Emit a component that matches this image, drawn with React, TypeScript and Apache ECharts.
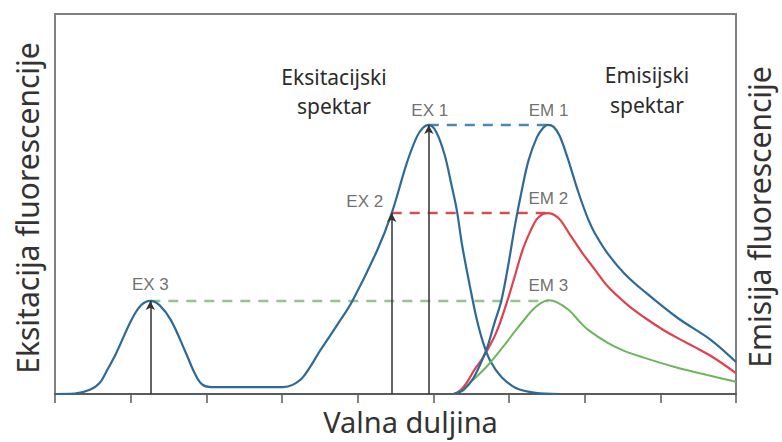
import React, { useEffect, useRef } from "react";
import * as echarts from "echarts";

// wavelength axis: ticks at 0..9 (no labels); intensity 0..1
const xTicks = [0, 1, 2, 3, 4, 5, 6, 7, 8, 9];

const excitation: [number, number][] = [
  [0, 0], [0.26, 0.001], [0.46, 0.011], [0.59, 0.029], [0.69, 0.063], [0.81, 0.108],
  [1.01, 0.195], [1.14, 0.234], [1.26, 0.245], [1.38, 0.234], [1.53, 0.195], [1.73, 0.108],
  [1.85, 0.053], [1.94, 0.026], [2.06, 0.018], [3.01, 0.018], [3.14, 0.024], [3.28, 0.045],
  [3.51, 0.116], [3.73, 0.182], [3.93, 0.245], [4.26, 0.379], [4.45, 0.476], [4.65, 0.608],
  [4.78, 0.676], [4.86, 0.7], [4.94, 0.708], [5.04, 0.689], [5.15, 0.629], [5.24, 0.55],
  [5.31, 0.484], [5.38, 0.392], [5.48, 0.287], [5.57, 0.2], [5.66, 0.134], [5.76, 0.084],
  [5.9, 0.045], [6.09, 0.016], [6.35, 0.003], [6.66, 0],
];

const emission1: [number, number][] = [
  [5.27, 0], [5.4, 0.011], [5.53, 0.042], [5.7, 0.116], [5.8, 0.182], [5.9, 0.247],
  [5.99, 0.339], [6.08, 0.445], [6.17, 0.537], [6.26, 0.616], [6.37, 0.676], [6.45, 0.7],
  [6.51, 0.708], [6.59, 0.703], [6.67, 0.679], [6.77, 0.624], [6.92, 0.529], [7.05, 0.458],
  [7.14, 0.421], [7.31, 0.368], [7.53, 0.316], [7.8, 0.268], [8.23, 0.2], [8.67, 0.142],
  [9.0, 0.084],
];

const emission2: [number, number][] = [
  [5.27, 0], [5.35, 0.008], [5.44, 0.029], [5.54, 0.063], [5.66, 0.097], [5.83, 0.161],
  [5.96, 0.234], [6.05, 0.292], [6.18, 0.379], [6.29, 0.432], [6.37, 0.461], [6.45, 0.474],
  [6.52, 0.476], [6.6, 0.471], [6.69, 0.455], [6.81, 0.418], [6.97, 0.371], [7.14, 0.326],
  [7.31, 0.282], [7.57, 0.234], [7.8, 0.2], [8.02, 0.171], [8.23, 0.147], [8.45, 0.124],
  [8.67, 0.1], [9.0, 0.055],
];

const emission3: [number, number][] = [
  [5.27, 0], [5.35, 0.008], [5.48, 0.029], [5.7, 0.071], [5.92, 0.124], [6.09, 0.168],
  [6.22, 0.2], [6.31, 0.221], [6.42, 0.239], [6.52, 0.247], [6.63, 0.242], [6.79, 0.221],
  [6.94, 0.189], [7.05, 0.168], [7.31, 0.134], [7.53, 0.113], [7.76, 0.097], [8.19, 0.071],
  [8.62, 0.05], [9.0, 0.032],
];

// peaks: EX 3, EX 2, EX 1, EM 1, EM 2, EM 3
const peakNames = ["EX 3", "EX 2", "EX 1", "EM 1", "EM 2", "EM 3"];
const peakX = [1.26, 4.45, 4.94, 6.51, 6.52, 6.52];
const peakY = [0.245, 0.476, 0.708, 0.708, 0.476, 0.247];

const axisTitleX = "Valna duljina";
const axisTitleLeft = "Eksitacija fluorescencije";
const axisTitleRight = "Emisija fluorescencije";
const spectrumTitles = ["Eksitacijski\nspektar", "Emisijski\nspektar"];

// presentation only
const labelOffsets: [number, number][] = [[0, -16], [-27, -12], [1, -14], [1, -14], [0, -15], [0, -15]];
const BLUE = "#2e6a98";
const RED = "#e0414d";
const GREEN = "#6db55e";

export default function App() {
  const ref = useRef<HTMLDivElement>(null);
  useEffect(() => {
    if (!ref.current) return;
    const chart = echarts.init(ref.current, undefined, { renderer: "svg" });

    const dashed = (name: string, i1: number, i2: number, color: string) => ({
      name,
      type: "line",
      data: [[peakX[i1], peakY[i1]], [peakX[i2], peakY[i1]]],
      symbol: "none",
      silent: true,
      z: 1,
      lineStyle: { color, width: 2.5, type: [10, 8] },
    });

    const option: any = {
      animation: false,
      backgroundColor: "#ffffff",
      grid: {
        left: 55, right: 40, top: 14, bottom: 48,
        show: true, borderColor: "#808080", borderWidth: 2, backgroundColor: "transparent",
      },
      xAxis: {
        type: "value", min: xTicks[0], max: xTicks[xTicks.length - 1], interval: 1,
        name: axisTitleX, nameLocation: "middle", nameGap: 13,
        nameTextStyle: { fontFamily: "Noto Sans", fontSize: 29, color: "#333", padding: [0, 0, 0, 30] },
        axisLine: { show: true, lineStyle: { color: "#5a5a5a", width: 2 } },
        axisTick: { show: true, length: 9, lineStyle: { color: "#5a5a5a", width: 1.5 } },
        axisLabel: { show: false },
        splitLine: { show: false },
      },
      yAxis: [
        {
          type: "value", min: 0, max: 1, position: "left",
          name: axisTitleLeft, nameLocation: "middle", nameRotate: 90, nameGap: 13,
          nameTextStyle: { fontFamily: "Noto Sans", fontSize: 30, color: "#333", padding: [0, 8, 0, 0] },
          axisLine: { show: true, lineStyle: { color: "#808080", width: 2 } },
          axisTick: { show: false }, axisLabel: { show: false }, splitLine: { show: false },
        },
        {
          type: "value", min: 0, max: 1, position: "right",
          name: axisTitleRight, nameLocation: "middle", nameRotate: 90, nameGap: 8,
          nameTextStyle: { fontFamily: "Noto Sans", fontSize: 30, color: "#333", padding: [0, 26, 0, 0] },
          axisLine: { show: true, lineStyle: { color: "#808080", width: 2 } },
          axisTick: { show: false }, axisLabel: { show: false }, splitLine: { show: false },
        },
      ],
      graphic: [
        {
          type: "text", x: 334, y: 91,
          style: {
            text: spectrumTitles[0], fontFamily: "Noto Sans", fontSize: 21, fill: "#2b2b2b",
            align: "center", verticalAlign: "middle", lineHeight: 29,
          },
        },
        {
          type: "text", x: 647, y: 90,
          style: {
            text: spectrumTitles[1], fontFamily: "Noto Sans", fontSize: 21, fill: "#2b2b2b",
            align: "center", verticalAlign: "middle", lineHeight: 30,
          },
        },
      ],
      series: [
        dashed("EX3-EM3", 0, 5, "#95c48c"),
        dashed("EX2-EM2", 1, 4, "#d94a55"),
        dashed("EX1-EM1", 2, 3, "#4a88b8"),
        {
          name: "Eksitacijski spektar", type: "line", data: excitation, symbol: "none",
          smooth: 0.35, z: 3, lineStyle: { color: BLUE, width: 2.2 },
          markLine: {
            silent: true, symbol: ["none", "arrow"], symbolSize: [7, 9],
            label: { show: false },
            lineStyle: { color: "#333", width: 1.5, type: "solid" },
            data: [0, 1, 2].map((i) => [
              { coord: [peakX[i], 0] },
              { coord: [peakX[i], peakY[i]] },
            ]),
          },
        },
        {
          name: "EM 3", type: "line", data: emission3, symbol: "none", smooth: 0.35, z: 3,
          lineStyle: { color: GREEN, width: 2 },
        },
        {
          name: "EM 2", type: "line", data: emission2, symbol: "none", smooth: 0.35, z: 3,
          lineStyle: { color: RED, width: 2.2 },
        },
        {
          name: "EM 1", type: "line", data: emission1, symbol: "none", smooth: 0.35, z: 3,
          lineStyle: { color: BLUE, width: 2.2 },
        },
        {
          name: "oznake", type: "scatter", symbolSize: 0, z: 5, silent: true,
          data: peakNames.map((n, i) => ({
            name: n,
            value: [peakX[i], peakY[i]],
            label: { offset: labelOffsets[i] },
          })),
          label: {
            show: true, position: "inside", formatter: (p: any) => p.name,
            fontFamily: "Liberation Sans", fontSize: 17, color: "#4a4a4a",
          },
        },
      ],
    };
    chart.setOption(option);
    return () => chart.dispose();
  }, []);
  return <div ref={ref} style={{ width: 782, height: 442, position: "absolute", left: 0, top: 0 }} />;
}
